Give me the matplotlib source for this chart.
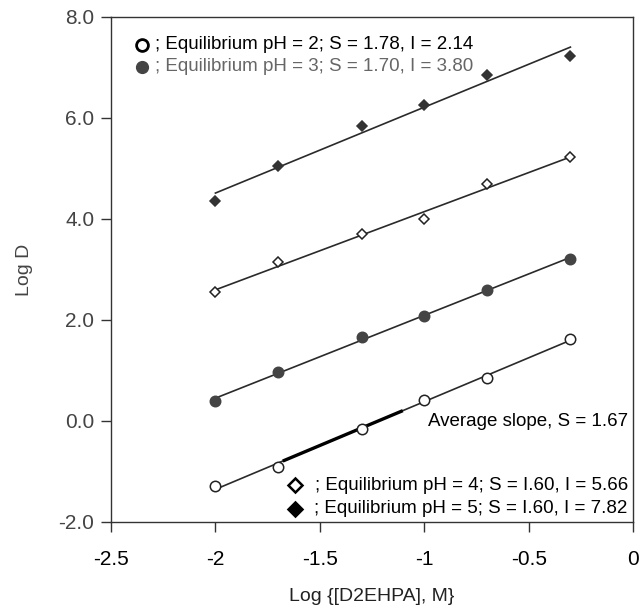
import numpy as np
import matplotlib
matplotlib.use("Agg")
import matplotlib.pyplot as plt
from matplotlib.ticker import FormatStrFormatter, FuncFormatter

plt.rcParams['font.family'] = ['Liberation Sans', 'DejaVu Sans']

# log [D2EHPA] values
log_ext = [-2.0, -1.7, -1.3, -1.0, -0.7, -0.3]

# log D at each equilibrium pH
logd_ph2 = [-1.28, -0.92, -0.15, 0.42, 0.86, 1.63]
logd_ph3 = [0.40, 0.97, 1.66, 2.07, 2.60, 3.21]
logd_ph4 = [2.55, 3.15, 3.70, 4.00, 4.70, 5.22]
logd_ph5 = [4.36, 5.05, 5.85, 6.25, 6.85, 7.22]

x_ticks = [-2.5, -2.0, -1.5, -1.0, -0.5, 0.0]
y_ticks = [-2.0, 0.0, 2.0, 4.0, 6.0, 8.0]

legend_top = ["; Equilibrium pH = 2; S = 1.78, I = 2.14",
              "; Equilibrium pH = 3; S = 1.70, I = 3.80"]
legend_bottom = ["; Equilibrium pH = 4; S = I.60, I = 5.66",
                 "; Equilibrium pH = 5; S = I.60, I = 7.82"]
avg_text = "Average slope, S = 1.67"

fig = plt.figure(figsize=(6.41, 6.11), dpi=100)
ax = fig.add_axes([0.1732, 0.1457, 0.8144, 0.8265])

x = np.array(log_ext)
xx = np.array([x.min(), x.max()])

series = [
    (logd_ph2, 'o', 'white', '#222222', 7.5),
    (logd_ph3, 'o', '#444444', '#444444', 7.5),
    (logd_ph4, 'D', 'white', '#222222', 5.3),
    (logd_ph5, 'D', '#333333', '#333333', 5.3),
]

for ys, mk, fc, ec, ms in series:
    k, b = np.polyfit(x, ys, 1)
    ax.plot(xx, k * xx + b, color='#2a2a2a', lw=1.2, zorder=2)
    ax.plot(x, ys, linestyle='none', marker=mk, markersize=ms,
            markerfacecolor=fc, markeredgecolor=ec, markeredgewidth=1.1, zorder=3)

# darker stretch on the pH 2 line
k2, b2 = np.polyfit(x, logd_ph2, 1)
seg = np.array([-1.67, -1.11])
ax.plot(seg, k2 * seg + b2, color='black', lw=2.4, zorder=2.5)

ax.set_xlim(-2.5, 0.0)
ax.set_ylim(-2.0, 8.0)
ax.set_xticks(x_ticks)
ax.set_yticks(y_ticks)
ax.xaxis.set_major_formatter(FuncFormatter(lambda v, p: '%g' % v))
ax.yaxis.set_major_formatter(FormatStrFormatter('%.1f'))
ax.tick_params(axis='both', direction='out', length=7, width=1, labelsize=15, color='#333333')
ax.tick_params(axis='x', pad=13, labelcolor='black')
ax.tick_params(axis='y', pad=5, labelcolor='#444444')
for s in ax.spines.values():
    s.set_color('#333333')
    s.set_linewidth(1.0)

ax.set_xlabel("Log {[D2EHPA], M}", fontsize=14, labelpad=14, color='#222222')
ax.set_ylabel("Log D", fontsize=14, labelpad=18, color='#444444')

# legend at top left
tcol = ['black', '#666666']
for i, (txt, (ys, mk, fc, ec, ms)) in enumerate(zip(legend_top, series[:2])):
    yy = 7.45 - i * 0.44
    ax.plot([-2.353], [yy], marker=mk, markersize=8.5, markerfacecolor=fc,
            markeredgecolor='black' if i == 0 else ec, markeredgewidth=2.0 if i == 0 else 1,
            linestyle='none', zorder=5)
    ax.text(-2.29, yy, txt, fontsize=13.5, va='center', ha='left', color=tcol[i], zorder=5)

# legend at bottom right
for i, (txt, (ys, mk, fc, ec, ms)) in enumerate(zip(legend_bottom, series[2:])):
    yy = -1.27 - i * 0.47
    ax.plot([-1.62], [yy], marker=mk, markersize=7.3,
            markerfacecolor='white' if i == 0 else 'black',
            markeredgecolor='black', markeredgewidth=1.8, linestyle='none', zorder=5)
    ax.text(-0.025, yy, txt, fontsize=13.5, va='center', ha='right', color='black', zorder=5)

ax.text(-0.025, -0.02, avg_text, fontsize=13.5, va='center', ha='right', color='black', zorder=5)

fig.savefig("out.png", dpi=100, facecolor='white')
